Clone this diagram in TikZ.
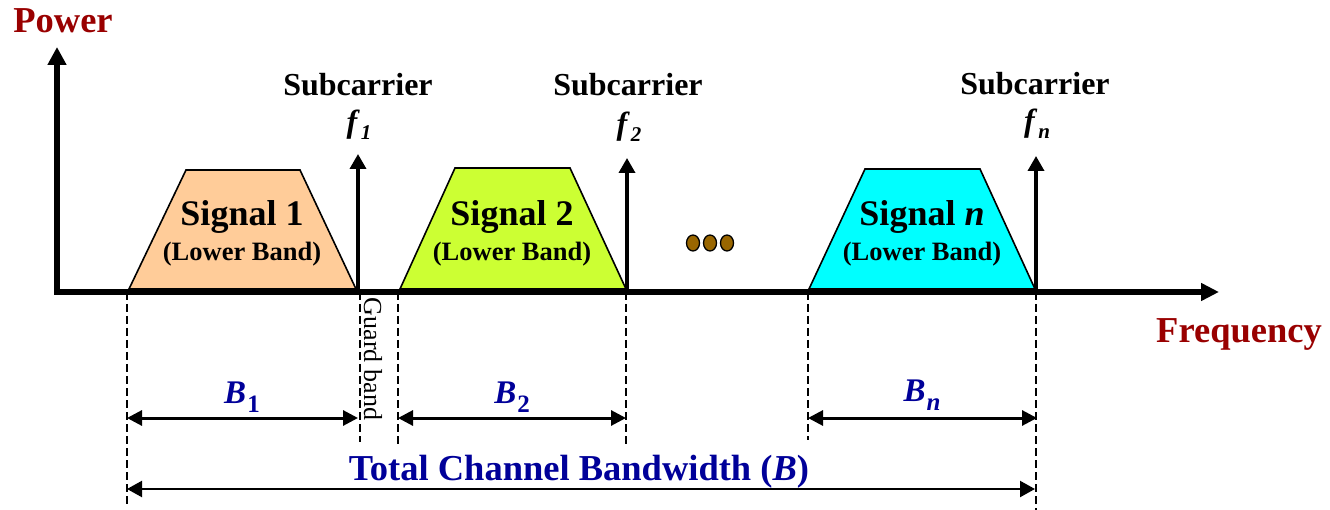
\documentclass[tikz,border=0pt]{standalone}
\usepackage{fontspec}
\setmainfont{Liberation Serif}
\usetikzlibrary{arrows.meta}
\definecolor{dred}{HTML}{990000}
\definecolor{dblue}{HTML}{000099}
\definecolor{peachfill}{HTML}{FFCC99}
\definecolor{limefill}{HTML}{CCFF33}
\definecolor{cyanfill}{HTML}{00FFFF}
\definecolor{dotbrown}{HTML}{996600}
\newcommand{\fsz}[1]{\fontsize{#1}{#1}\selectfont}
\newcommand{\fsub}[1]{\textit{f}\kern1pt\raisebox{-7pt}{\fsz{21}\textit{#1}}}
\newcommand{\bsub}[1]{\textit{B}\kern1pt\raisebox{-9pt}{\fsz{25}#1}}
\begin{document}
\begin{tikzpicture}[x=1pt,y=-1pt,
  axisline/.style={line width=5.5pt, line join=miter,
    {Triangle[length=18pt,width=18pt]}-{Triangle[length=18pt,width=17pt]}},
  carrier/.style={line width=3.5pt, -{Triangle[length=15pt,width=16pt]}},
  band/.style={draw=black, line width=1.6pt, line join=miter},
  guide/.style={line width=1.4pt, dash pattern=on 8pt off 4pt},
  dimarrow/.style={line width=3pt,
    {Triangle[length=15pt,width=15pt]}-{Triangle[length=15pt,width=15pt]}},
  totarrow/.style={line width=2.2pt,
    {Triangle[length=15pt,width=16pt]}-{Triangle[length=15pt,width=16pt]}},
  lbl/.style={inner sep=0pt, anchor=base, font=\bfseries},
  axlbl/.style={lbl, text=dred, font=\fsz{36.5}\bfseries},
  sublbl/.style={lbl, font=\fsz{32}\bfseries},
  sigtitle/.style={lbl, font=\fsz{36}\bfseries},
  sigsub/.style={lbl, font=\fsz{26.5}\bfseries},
  bwlbl/.style={lbl, text=dblue, font=\fsz{33}\bfseries},
  dot/.style={fill=dotbrown, draw=black, line width=1.3pt}
]
\useasboundingbox (0,0) rectangle (1330,510);

% key coordinates
\coordinate (origin) at (57,292);
\coordinate (ytip) at (57,47);
\coordinate (xtip) at (1219,292);
\coordinate (c1) at (358,292);   \coordinate (c1top) at (358,154);
\coordinate (c2) at (627,292);   \coordinate (c2top) at (627,158);
\coordinate (cn) at (1036,292);  \coordinate (cntop) at (1036,156);

% guide lines
\coordinate (g1a) at (127,292); \coordinate (g1b) at (127,505);
\coordinate (g2a) at (360,292); \coordinate (g2b) at (360,442);
\coordinate (g3a) at (398,292); \coordinate (g3b) at (398,445);
\coordinate (g4a) at (626,292); \coordinate (g4b) at (626,445);
\coordinate (g5a) at (808,292); \coordinate (g5b) at (808,440);
\coordinate (g6a) at (1036,292); \coordinate (g6b) at (1036,510);
\foreach \a/\b in {g1a/g1b,g2a/g2b,g3a/g3b,g4a/g4b,g5a/g5b,g6a/g6b}
  \draw[guide] (\a) -- (\b);

% signal trapezoids
\path[band, fill=peachfill] (129,289) -- (186,170) -- (300,170) -- (356,289) -- cycle;
\path[band, fill=limefill] (400,289) -- (455,168) -- (570,168) -- (626,289) -- cycle;
\path[band, fill=cyanfill] (809,289) -- (865,169) -- (980,169) -- (1035,289) -- cycle;

% axes
\draw[axisline] (ytip) -- (origin) -- (xtip);

% subcarriers
\draw[carrier] (c1) -- (c1top);
\draw[carrier] (c2) -- (c2top);
\draw[carrier] (cn) -- (cntop);

% dots
\path[dot] (693,243) ellipse [x radius=6.5pt, y radius=8pt];
\path[dot] (710,243) ellipse [x radius=6.5pt, y radius=8pt];
\path[dot] (727,243) ellipse [x radius=6.5pt, y radius=8pt];

% bandwidth arrows
\coordinate (b1l) at (127,418); \coordinate (b1r) at (358,418);
\coordinate (b2l) at (398,418); \coordinate (b2r) at (626,418);
\coordinate (bnl) at (808,418); \coordinate (bnr) at (1037,418);
\coordinate (tl) at (127,489);  \coordinate (tr) at (1035,489);
\draw[dimarrow] (b1l) -- (b1r);
\draw[dimarrow] (b2l) -- (b2r);
\draw[dimarrow] (bnl) -- (bnr);
\draw[totarrow] (tl) -- (tr);

% labels
\node[axlbl] (power) at (63,33) {Power};
\node[axlbl] (freq) at (1239,342) {Frequency};

\node[sublbl] (s1) at (358,96) {Subcarrier};
\node[sublbl] (s2) at (628,96) {Subcarrier};
\node[sublbl] (sn) at (1035,95) {Subcarrier};
\node[sublbl] (f1) at (359,133) {\fsub{1}};
\node[sublbl] (f2) at (629,135) {\fsub{2}};
\node[sublbl] (fn) at (1037,132) {\fsub{n}};

\node[sigtitle] (sig1) at (242,226) {Signal 1};
\node[sigsub] (low1) at (242,261) {(Lower Band)};
\node[sigtitle] (sig2) at (512,226) {Signal 2};
\node[sigsub] (low2) at (512,261) {(Lower Band)};
\node[sigtitle] (sign) at (922,226) {Signal \textit{n}};
\node[sigsub] (lown) at (922,261) {(Lower Band)};

\node[inner sep=0pt, rotate=-90, font=\fsz{26}] (guard) at (373,359) {Guard band};

\node[bwlbl] (bw1) at (242,403) {\bsub{1}};
\node[bwlbl] (bw2) at (512,403) {\bsub{2}};
\node[bwlbl] (bwn) at (922,401) {\bsub{\textit{n}}};

\node[lbl, text=dblue, font=\fsz{36.5}\bfseries] (total) at (579,480) {Total Channel Bandwidth (\textit{B})};
\end{tikzpicture}
\end{document}
